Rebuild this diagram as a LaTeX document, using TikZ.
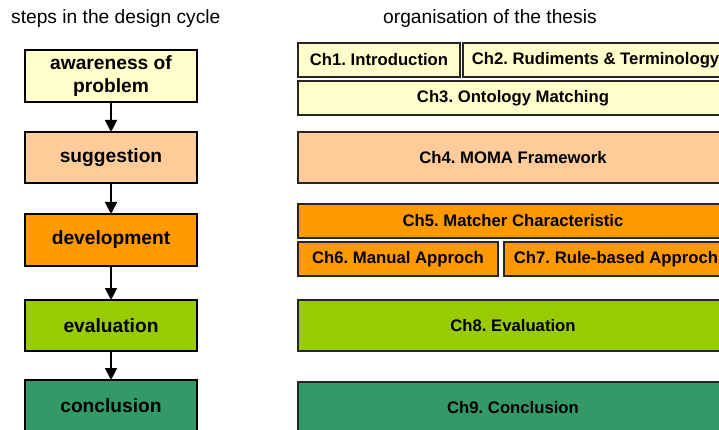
\documentclass[tikz,border=0pt]{standalone}
\usepackage{fontspec}
\setmainfont{Liberation Sans}
\usetikzlibrary{arrows.meta}
\frenchspacing
\definecolor{cyellow}{HTML}{FFFFCC}
\definecolor{cpeach}{HTML}{FFCC99}
\definecolor{corange}{HTML}{FF9900}
\definecolor{clime}{HTML}{99CC00}
\definecolor{cgreen}{HTML}{339966}
\tikzset{
  stepbox/.style={draw=black, line width=1.1pt, inner sep=0pt, outer sep=0pt,
    anchor=north west, font=\fontsize{19.2}{23}\selectfont\bfseries, align=center},
  chapbox/.style={draw=black!85, line width=1.1pt, inner sep=0pt, outer sep=0pt,
    anchor=north west, font=\fontsize{16.7}{20}\selectfont\bfseries},
  heading/.style={anchor=base west, inner sep=0pt, font=\fontsize{19.2}{23}\selectfont},
  flow/.style={line width=1.8pt, -{Triangle[width=12pt,length=12pt]}}
}
\begin{document}
\begin{tikzpicture}[x=1pt,y=-1pt]
\useasboundingbox (0,0) rectangle (719,430);
\clip (0,0) rectangle (719,430);

% headings
\node[heading] (h1) at (11,24) {steps in the design cycle};
\node[heading] (h2) at (383,24) {organisation of the thesis};

% design cycle steps
\node[stepbox, fill=cyellow, minimum width=172pt, minimum height=52pt] (aw) at (25,50) {awareness of\\problem};
\node[stepbox, fill=cpeach, minimum width=172pt, minimum height=51pt] (sg) at (25,132) {suggestion};
\node[stepbox, fill=corange, minimum width=172pt, minimum height=52pt] (dv) at (25,214) {development};
\node[stepbox, fill=clime, minimum width=172pt, minimum height=51pt] (ev) at (25,300) {evaluation};
\node[stepbox, fill=cgreen, minimum width=172pt, minimum height=52pt] (cc) at (25,380) {conclusion};

\draw[flow] (aw.south) -- (sg.north);
\draw[flow] (sg.south) -- (dv.north);
\draw[flow] (dv.south) -- (ev.north);
\draw[flow] (ev.south) -- (cc.north);

% thesis chapters
\node[chapbox, fill=cyellow, minimum width=162pt, minimum height=34pt] (c1) at (298,43) {Ch1. Introduction};
\node[chapbox, fill=cyellow, minimum width=265pt, minimum height=34pt] (c2) at (463,43) {Ch2. Rudiments \& Terminology};
\node[chapbox, fill=cyellow, minimum width=430pt, minimum height=34pt] (c3) at (298,81) {Ch3. Ontology Matching};
\node[chapbox, fill=cpeach, minimum width=430pt, minimum height=51pt] (c4) at (298,132) {Ch4. MOMA Framework};
\node[chapbox, fill=corange, minimum width=430pt, minimum height=34pt] (c5) at (298,204) {Ch5. Matcher Characteristic};
\node[chapbox, fill=corange, minimum width=200pt, minimum height=34pt] (c6) at (298,242) {Ch6. Manual Approch};
\node[chapbox, fill=corange, minimum width=224pt, minimum height=34pt] (c7) at (504,242) {Ch7. Rule-based Approch};
\node[chapbox, fill=clime, minimum width=430pt, minimum height=51pt] (c8) at (298,300) {Ch8. Evaluation};
\node[chapbox, fill=cgreen, minimum width=430pt, minimum height=52pt] (c9) at (298,382) {Ch9. Conclusion};
\end{tikzpicture}
\end{document}
